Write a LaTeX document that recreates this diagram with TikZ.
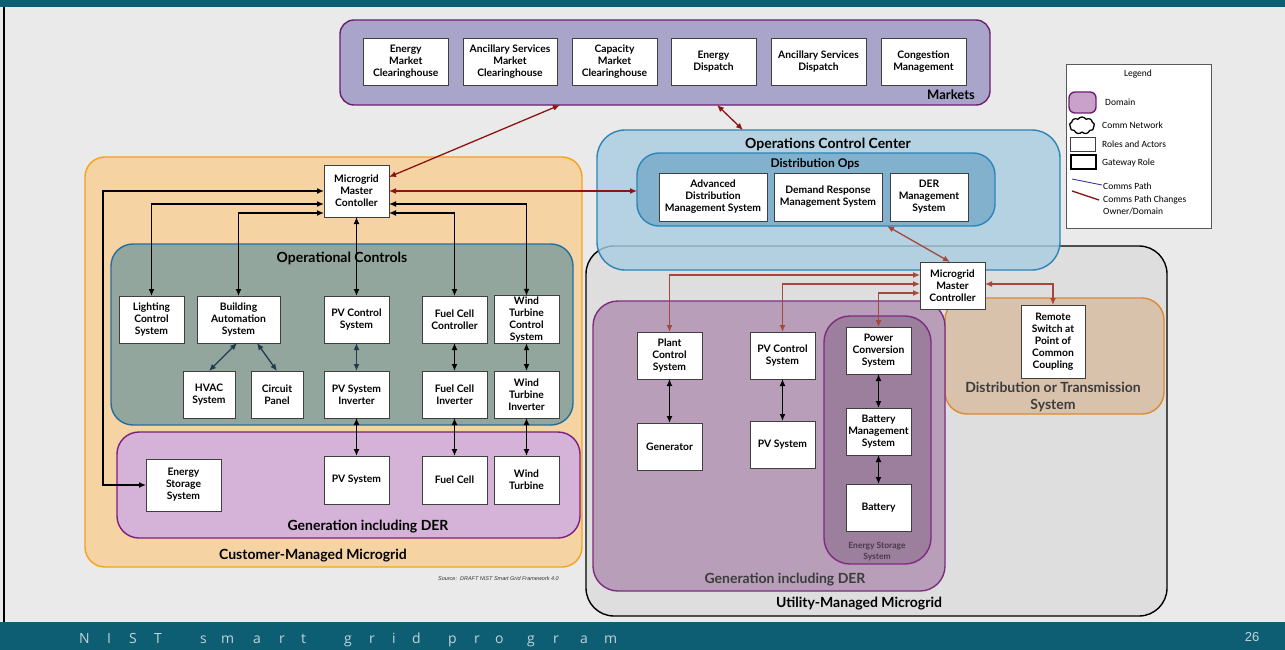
\documentclass[tikz,border=0pt]{standalone}
\usepackage{fontspec}
\setmainfont{Lato}
\newfontfamily\legfont{Carlito}
\newfontfamily\barfont{Open Sans}
\newfontfamily\arialfont{Liberation Sans}
\usetikzlibrary{arrows.meta,calc,shapes.symbols}
\definecolor{barcol}{HTML}{0D5E73}
\definecolor{bartext}{HTML}{C3D4DA}
\definecolor{bgcol}{HTML}{EAEAEA}
\definecolor{mktfill}{HTML}{A9A4CA}
\definecolor{purpbord}{HTML}{6E1D72}
\definecolor{orfill}{HTML}{F6D3A2}
\definecolor{orbord}{HTML}{F5A21C}
\definecolor{opfill}{HTML}{93A69D}
\definecolor{bluebord}{HTML}{1F70A2}
\definecolor{genlfill}{HTML}{D5B2D7}
\definecolor{genlbord}{HTML}{7D1F80}
\definecolor{occfill}{HTML}{A8CDE0}
\definecolor{occbord}{HTML}{2C85B7}
\definecolor{dopsfill}{HTML}{74A9C8}
\definecolor{utilfill}{HTML}{DCDCDC}
\definecolor{genrfill}{HTML}{B89EB8}
\definecolor{genrbord}{HTML}{7D2C80}
\definecolor{esfill}{HTML}{9C7E9D}
\definecolor{dtfill}{HTML}{D9C0A6}
\definecolor{dtbord}{HTML}{DA8A33}
\definecolor{darkred}{HTML}{8B1414}
\definecolor{brred}{HTML}{A4473D}
\definecolor{slate}{HTML}{1E3C4E}
\definecolor{boxbord}{HTML}{3F3F3F}
\definecolor{greytext}{HTML}{3C3C3C}
\definecolor{estext}{HTML}{4A3A4A}
\definecolor{legdomfill}{HTML}{C9A2C9}
\definecolor{legblue}{HTML}{2B2BA0}
\tikzset{
  >={Latex[length=7pt,width=6pt]},
  dom/.style={inner sep=0pt, outer sep=0pt, line width=1.4pt},
  box/.style={draw=boxbord, fill=white, line width=0.9pt, align=center, inner sep=1pt, outer sep=0pt,
    text=black, font=\bfseries\fontsize{10.3}{12}\selectfont},
  dtitle/.style={font=\bfseries\fontsize{14}{17}\selectfont, inner sep=0pt, align=center},
  conn/.style={<->, line width=1.4pt, black},
  sconn/.style={<->, line width=1.3pt, slate},
  rconn/.style={<->, line width=1.3pt, darkred},
  bconn/.style={<->, line width=1.3pt, brred},
  legtext/.style={font=\legfont\fontsize{9.5}{12}\selectfont, inner sep=0pt, align=left},
  footletter/.style={anchor=base west, inner sep=0pt, text=bartext, font=\barfont\fontsize{14}{14}\selectfont}
}
\begin{document}
\begin{tikzpicture}[x=1pt,y=-1pt]
\useasboundingbox (0,0) rectangle (1285,650);
\fill[bgcol] (0,0) rectangle (1285,650);
\fill[barcol] (0,0) rectangle (1285,7);
\fill[barcol] (0,622) rectangle (1285,650);
\draw[black, line width=1.5pt] (4,7) -- (4,622);
\foreach \ch/\xx [count=\i] in {N/79,I/107,S/129,T/154,s/200,m/221,a/253,r/279,t/301,g/344,r/369,i/392,d/412,p/448,r/474,o/495,g/527,r/553,a/580,m/604}
  \node[footletter] (fl\i) at (\xx,643) {\ch};
\node[inner sep=0pt, text=bartext, font=\arialfont\fontsize{13}{13}\selectfont] (pagenum) at (1252,637) {26};

% ---------------- Markets
\node[dom, draw=purpbord, fill=mktfill, rounded corners=14pt, minimum width=650pt, minimum height=85pt] (markets) at (665,62.5) {};
\node[font=\bfseries\fontsize{13}{15}\selectfont, inner sep=0pt, anchor=east] (mktlabel) at (975,95) {Markets};
\node[box, minimum width=84.5pt, minimum height=47pt] (emc) at (405.75,61.5) {Energy\\Market\\Clearinghouse};
\node[box, minimum width=94pt, minimum height=47pt] (asmc) at (510,61.5) {Ancillary Services\\Market\\Clearinghouse};
\node[box, minimum width=85pt, minimum height=47pt] (cmc) at (614.5,61.5) {Capacity\\Market\\Clearinghouse};
\node[box, minimum width=85pt, minimum height=47pt] (ed) at (713.5,61.5) {Energy\\Dispatch};
\node[box, minimum width=95pt, minimum height=47pt] (asd) at (818.5,61.5) {Ancillary Services\\Dispatch};
\node[box, minimum width=85pt, minimum height=47pt] (cm) at (923.5,61.5) {Congestion\\Management};

% ---------------- Utility managed microgrid
\node[dom, draw=black, fill=utilfill, fill opacity=0.8, rounded corners=28pt, minimum width=581pt, minimum height=370pt] (util) at (876.5,431) {};
\node[dtitle] (utillabel) at (859,604) {Utility-Managed Microgrid};

% ---------------- Operations control center
\node[dom, draw=occbord, fill=occfill, fill opacity=0.8, rounded corners=28pt, minimum width=463pt, minimum height=140pt] (occ) at (828.5,200) {};
\node[dtitle] (occlabel) at (828,144) {Operations Control Center};
\node[dom, draw=occbord, fill=dopsfill, fill opacity=0.8, rounded corners=22pt, minimum width=358pt, minimum height=73pt] (dops) at (816,189.5) {};
\node[font=\bfseries\fontsize{12}{14}\selectfont, inner sep=0pt] (dopslabel) at (815,164) {Distribution Ops};
\node[box, minimum width=108pt, minimum height=48pt] (adms) at (713,197) {Advanced\\Distribution\\Management System};
\node[box, minimum width=108pt, minimum height=48pt] (drms) at (828,197) {Demand Response\\Management System};
\node[box, minimum width=78pt, minimum height=48pt] (derms) at (929,197) {DER\\Management\\System};

% ---------------- Customer managed microgrid
\node[dom, draw=orbord, fill=orfill, rounded corners=20pt, minimum width=497pt, minimum height=410pt] (cust) at (333.5,362) {};
\node[dtitle] (custlabel) at (313,556) {Customer-Managed Microgrid};
\node[dom, draw=bluebord, fill=opfill, rounded corners=22pt, minimum width=462pt, minimum height=181pt] (opc) at (342,334.5) {};
\node[dtitle] (opclabel) at (342,258) {Operational Controls};
\node[dom, draw=genlbord, fill=genlfill, rounded corners=22pt, minimum width=463pt, minimum height=106pt] (genl) at (348.5,485) {};
\node[dtitle] (genllabel) at (368,527) {Generation including DER};

\node[box, minimum width=65pt, minimum height=52pt] (mmcl) at (356.5,191) {Microgrid\\Master\\Contoller};
\node[box, minimum width=65pt, minimum height=47pt] (light) at (151.5,319.5) {Lighting\\Control\\System};
\node[box, minimum width=83pt, minimum height=47pt] (bas) at (238.5,319.5) {Building\\Automation\\System};
\node[box, minimum width=65pt, minimum height=47pt] (pvc) at (356.5,319.5) {PV Control\\System};
\node[box, minimum width=65pt, minimum height=47pt] (fcc) at (454.5,319.5) {Fuel Cell\\Controller};
\node[box, minimum width=65pt, minimum height=47pt] (wtcs) at (526.5,319.5) {Wind\\Turbine\\Control\\System};
\node[box, minimum width=52pt, minimum height=47pt] (hvac) at (209,394.5) {HVAC\\System};
\node[box, minimum width=52pt, minimum height=47pt] (cp) at (277,394.5) {Circuit\\Panel};
\node[box, minimum width=65pt, minimum height=47pt] (pvi) at (356.5,394.5) {PV System\\Inverter};
\node[box, minimum width=65pt, minimum height=47pt] (fci) at (454.5,394.5) {Fuel Cell\\Inverter};
\node[box, minimum width=65pt, minimum height=47pt] (wti) at (526.5,394.5) {Wind\\Turbine\\Inverter};
\node[box, minimum width=75pt, minimum height=52pt] (ess) at (183.5,485) {Energy\\Storage\\System};
\node[box, minimum width=65pt, minimum height=48pt] (pvs) at (356.5,480) {PV System};
\node[box, minimum width=65pt, minimum height=48pt] (fc) at (454.5,480) {Fuel Cell};
\node[box, minimum width=65pt, minimum height=48pt] (wt) at (526.5,480) {Wind\\Turbine};

% ---------------- Utility internals
\node[dom, draw=dtbord, fill=dtfill, fill opacity=0.9, rounded corners=22pt, minimum width=219pt, minimum height=116pt] (dt) at (1054.5,356) {};
\node[dtitle, text=greytext] (dtlabel) at (1053,397) {Distribution or Transmission\\System};
\node[dom, draw=genrbord, fill=genrfill, rounded corners=25pt, minimum width=352pt, minimum height=290pt] (genr) at (769,446) {};
\node[dtitle, text=greytext] (genrlabel) at (785,580) {Generation including DER};
\node[dom, draw=genrbord, fill=esfill, rounded corners=26pt, minimum width=107pt, minimum height=248pt] (esd) at (877.5,440) {};
\node[font=\bfseries\fontsize{8.5}{11}\selectfont, text=estext, inner sep=0pt, align=center] (esdlabel) at (877,551.5) {Energy Storage\\System};

\node[box, minimum width=65pt, minimum height=47pt] (mmcr) at (952.5,285.5) {Microgrid\\Master\\Controller};
\node[box, minimum width=65pt, minimum height=47pt] (pctrl) at (669.5,355.5) {Plant\\Control\\System};
\node[box, minimum width=65pt, minimum height=47pt] (pvc2) at (782.5,355.5) {PV Control\\System};
\node[box, minimum width=65pt, minimum height=47pt] (pcs) at (878.5,350.5) {Power\\Conversion\\System};
\node[box, minimum width=65pt, minimum height=47pt] (bms) at (878.5,431.5) {Battery\\Management\\System};
\node[box, minimum width=65pt, minimum height=47pt] (batt) at (878.5,507.5) {Battery};
\node[box, minimum width=65pt, minimum height=47pt] (gen) at (669.5,446.5) {Generator};
\node[box, minimum width=65pt, minimum height=47pt] (pvs2) at (782.5,444.5) {PV System};
\node[box, minimum width=64pt, minimum height=73pt] (rs) at (1053,341.5) {Remote\\Switch at\\Point of\\Common\\Coupling};

% ---------------- Source
\node[anchor=east, inner sep=0pt, font=\arialfont\itshape\fontsize{5.5}{7}\selectfont, text=black!80] (source) at (559,579) {Source:\ \ DRAFT NIST Smart Grid Framework 4.0};

% ---------------- Connectors (customer microgrid)
\draw[conn] (mmcl.west) -- ++(-221,0) |- (ess.west);
\draw[conn] ([yshift=-13pt]mmcl.west) -| (light.north);
\draw[conn] ([yshift=-22pt]mmcl.west) -| (bas.north);
\draw[conn] (mmcl.south) -- (pvc.north);
\draw[conn] ([yshift=-22pt]mmcl.east) -| (fcc.north);
\draw[conn] ([yshift=-13pt]mmcl.east) -| (wtcs.north);
\draw[sconn] ([xshift=-1.5pt]bas.south) -- (hvac.north);
\draw[sconn] ([xshift=18.5pt]bas.south) -- (cp.north);
\draw[sconn] (pvc.south) -- (pvi.north);
\draw[conn] (fcc.south) -- (fci.north);
\draw[conn] (wtcs.south) -- (wti.north);
\draw[conn] (pvi.south) -- (pvs.north);
\draw[conn] (fci.south) -- (fc.north);
\draw[conn] (wti.south) -- (wt.north);

% ---------------- Connectors (cross-domain)
\draw[rconn] ($(markets.south west)+(220,0)$) -- ([yshift=14pt]mmcl.east);
\draw[rconn] ($(markets.south west)+(377,0)$) -- ($(occ.north west)+(146,0)$);
\draw[rconn] (mmcl.east) -- (mmcl.east -| dops.west);
\draw[bconn] ($(dops.south west)+(250,0)$) -- ([xshift=-2.5pt]mmcr.north);
\draw[bconn] ([yshift=10.5pt]mmcr.west) -| (pctrl.north);
\draw[bconn] ([yshift=1.5pt]mmcr.west) -| (pvc2.north);
\draw[bconn] ([yshift=-7.5pt]mmcr.west) -| (pcs.north);
\draw[bconn] ([yshift=1.5pt]mmcr.east) -| (rs.north);

% ---------------- Connectors (utility microgrid)
\draw[conn] (pctrl.south) -- (gen.north);
\draw[conn] (pvc2.south) -- (pvs2.north);
\draw[conn] (pcs.south) -- (bms.north);
\draw[conn] (bms.south) -- (batt.north);

% ---------------- Legend
\node[draw=black!65, fill=white, line width=0.8pt, minimum width=145pt, minimum height=164pt, inner sep=0pt] (legend) at (1138.5,146) {};
\node[legtext] (legtitle) at (1138,74) {Legend};
\node[dom, draw=purpbord, fill=legdomfill, rounded corners=6pt, minimum width=27pt, minimum height=21pt] (legdom) at (1082.5,102.5) {};
\node[legtext, anchor=west] (legdomt) at (1105,102.5) {Domain};
\node[cloud, draw=black, fill=white, line width=1.3pt, cloud puffs=9, cloud puff arc=120, minimum width=25pt, minimum height=17pt, inner sep=0pt] (legcloud) at (1082,125.5) {};
\node[legtext, anchor=west] (legcloudt) at (1102,125) {Comm Network};
\node[draw=boxbord, fill=white, line width=0.6pt, minimum width=25pt, minimum height=14pt, inner sep=0pt] (legrole) at (1082.5,144) {};
\node[legtext, anchor=west] (legrolet) at (1102,144) {Roles and Actors};
\node[draw=black, fill=white, line width=2pt, minimum width=25pt, minimum height=13pt, inner sep=0pt] (leggw) at (1083,162) {};
\node[legtext, anchor=west] (leggwt) at (1102,163) {Gateway Role};
\coordinate (lb1) at (1072,179);
\coordinate (lb2) at (1102,185);
\draw[legblue, line width=0.8pt] (lb1) -- (lb2);
\node[legtext, anchor=west] (legcpt) at (1103,186) {Comms Path};
\coordinate (lr1) at (1072,191);
\coordinate (lr2) at (1099,200);
\draw[darkred, line width=1.4pt] (lr1) -- (lr2);
\node[legtext, anchor=north west] (legcpct) at (1103,195.5) {Comms Path Changes\\Owner/Domain};
\end{tikzpicture}
\end{document}
